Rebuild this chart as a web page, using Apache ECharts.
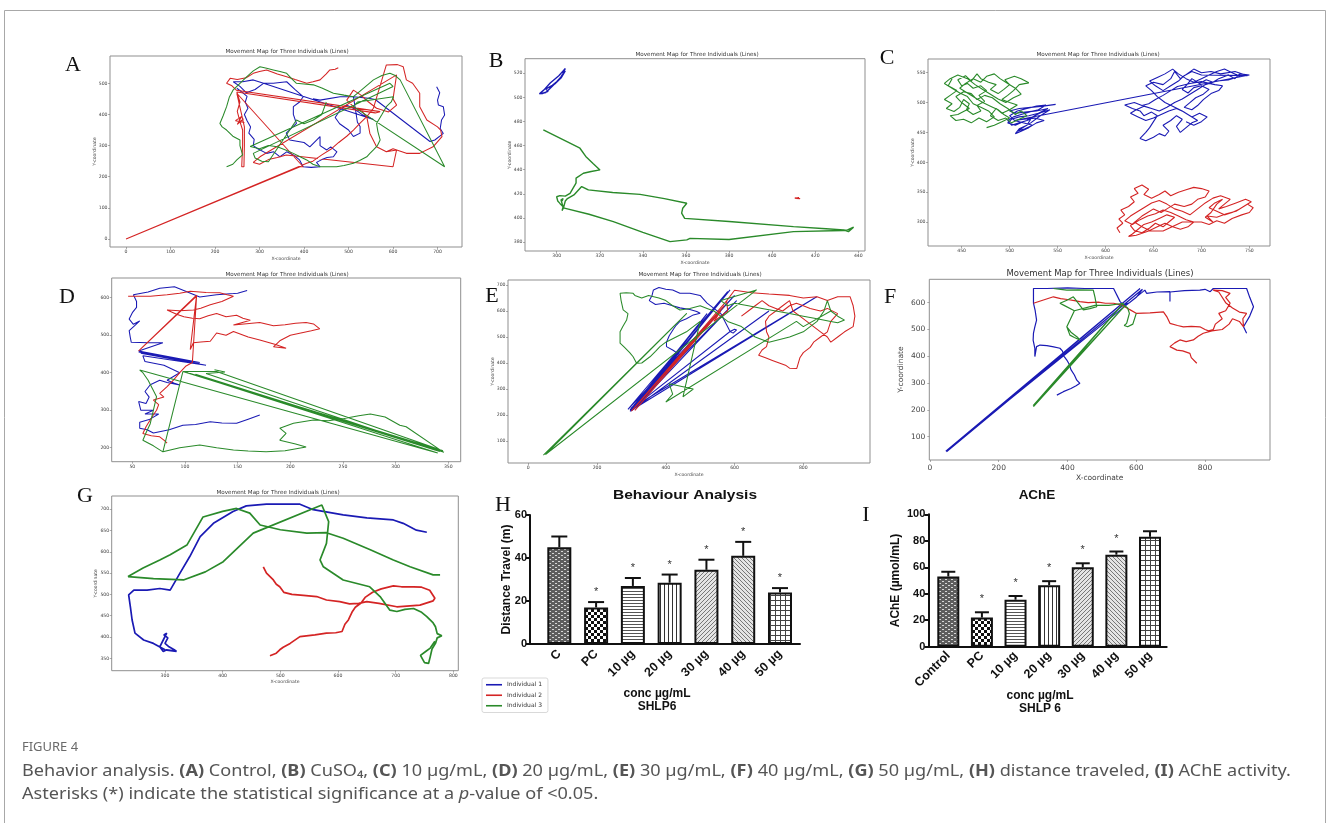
<!DOCTYPE html>
<html><head><meta charset="utf-8">
<script src="https://cdn.jsdelivr.net/npm/echarts@6/dist/echarts.min.js"></script>
<style>html,body{margin:0;padding:0;background:#fff}#c{width:1328px;height:823px}</style>
</head><body><div id="c"></div>
<script>
// ---------------- DATA ----------------
const NAMES = ['Individual 1', 'Individual 2', 'Individual 3'];

// Panel A (Control)
const A_xticks = [0,100,200,300,400,500,600,700];
const A_yticks = [0,100,200,300,400,500];
const A_ind1 = [[249,484],[262,470],[272,458],[268,440],[274,420],[266,400],[272,380],[280,360],[276,340],[288,320],[286,300],[296,290],[316,275],[332,280],[346,264],[361,280],[376,270],[390,254],[398,232],[416,230],[436,232],[428,246],[440,255],[452,262],[466,264],[474,280],[460,296],[451,286],[436,300],[436,329],[413,296],[400,310],[368,318],[360,340],[383,371],[376,400],[376,425],[390,440],[398,457],[380,480],[361,505],[331,500],[309,500],[286,511],[262,505],[241,505],[256,490],[270,470],[290,480],[309,500],[556,384],[530,400],[511,420],[496,430],[481,414],[470,390],[480,370],[500,350],[511,329],[526,340],[526,361],[520,375],[511,457],[481,457],[460,452],[436,446],[420,450],[436,446],[481,457],[511,457],[545,452],[560,448],[683,313],[694,318],[713,339],[706,355],[709,382],[716,398],[713,425],[702,430],[700,446],[705,470],[698,489]];
const A_ind2 = [[477,550],[470,545],[458,543],[450,530],[436,511],[420,505],[406,500],[380,512],[361,521],[340,530],[316,543],[300,538],[286,532],[270,518],[250,512],[234,516],[226,500],[238,492],[248,478],[571,409],[560,405],[249,472],[256,440],[250,410],[256,377],[264,386],[250,368],[260,394],[246,380],[266,374],[256,377],[262,350],[262,300],[260,232],[265,232],[266,300],[266,360],[249,468],[398,232],[391,232],[0,0],[406,243],[420,250],[440,270],[462,290],[478,310],[496,330],[511,350],[526,372],[541,393],[530,410],[511,425],[496,446],[511,478],[528,462],[545,440],[563,420],[590,408],[608,430],[600,450],[608,527],[301,264],[286,246],[300,240],[320,255],[340,262],[360,270],[600,232],[608,286],[585,280],[563,296],[548,339],[541,393],[556,420],[585,559],[610,560],[623,553],[630,511],[644,500],[660,468],[660,425],[676,382],[700,360],[707,350],[710,329],[690,296],[660,275],[630,275],[600,290],[585,280]];
const A_ind3 = [[226,232],[240,240],[249,254],[262,270],[256,300],[256,318],[240,330],[226,350],[216,360],[211,371],[218,395],[226,425],[232,455],[241,479],[256,500],[271,521],[286,540],[301,553],[316,548],[331,543],[346,538],[361,532],[372,515],[383,500],[400,498],[421,495],[440,485],[466,468],[490,462],[511,457],[530,480],[556,511],[575,525],[593,532],[605,525],[616,511],[716,232],[511,425],[520,440],[601,457],[596,440],[585,425],[575,400],[563,371],[566,345],[571,318],[565,300],[556,286],[548,275],[541,264],[525,252],[511,243],[490,236],[473,232],[455,232],[436,232],[420,240],[406,254],[390,265],[376,275],[360,285],[340,296],[320,300],[300,290],[279,297],[593,500],[600,490],[286,275],[290,260],[305,250],[320,248],[383,382],[400,370],[421,382],[440,400],[450,440]];

// Panel B (CuSO4)
const B_xticks = [300,320,340,360,380,400,420,440];
const B_yticks = [380,400,420,440,460,480,500,520];
const B_ind1 = [[293,503],[296,505],[295,507],[298,510],[300,513],[302,517],[303,520],[304,524],[303,522],[301,518],[297,512],[294,506],[292,503],[295,504],[299,511],[302,516],[304,522]];
const B_ind2 = [[410.5,416.5],[413,416],[411,416.3],[412.5,416.8],[411.2,416.1]];
const B_ind3 = [[293.8,473],[305,463],[310.8,457.8],[313.5,451],[317,445],[320.1,439.8],[316,438.5],[312.4,437],[309,433],[308.5,431.5],[309,429],[308.5,427.3],[306.2,420.4],[304,418],[301.5,418.5],[300,417.5],[300.5,414],[301.5,412],[303,409.3],[302.5,406],[303.2,408.5],[304,414],[305,416],[308,419],[311.6,426],[314.7,423.2],[326,421],[338.7,419.5],[350,416],[360.4,412.1],[358.5,408],[358,404],[359.4,399.6],[380,397],[409.9,392.7],[425,391],[433.1,390],[435.4,388.6],[437.8,392.3],[435,390],[433,389.5],[409.9,388.6],[380,382],[361.9,383],[360.4,381.7],[352.6,380.3],[340,388],[326.3,396.9],[315,403],[303.1,408.3],[302,415],[303,416],[302.5,414]];

// Panel C (10 ug/mL)
const C_xticks = [450,500,550,600,650,700,750];
const C_yticks = [300,350,400,450,500,550];
const C_ind1 = [[548,497],[535,494],[522,492],[510,490],[500,486],[506,482],[516,484],[528,486],[540,490],[530,482],[520,478],[510,476],[502,472],[498,466],[506,462],[514,468],[522,472],[518,462],[510,456],[506,448],[512,452],[520,458],[528,466],[536,470],[526,474],[515,472],[505,470],[500,478],[508,486],[518,490],[528,494],[538,496],[530,488],[520,484],[512,480],[504,476],[498,470],[502,462],[510,466],[518,470],[526,478],[534,484],[542,488],[532,478],[522,466],[514,458],[508,452],[516,456],[524,462],[505,470],[750,546],[740,548],[735,540],[728,546],[718,540],[712,534],[705,538],[698,532],[690,540],[685,530],[680,522],[686,516],[692,525],[700,528],[708,522],[702,514],[694,508],[688,500],[682,492],[690,488],[696,495],[702,505],[710,515],[718,520],[722,528],[714,530],[700,535],[688,532],[675,527],[668,520],[660,512],[652,505],[645,498],[638,495],[630,500],[620,496],[628,490],[636,486],[640,478],[648,484],[654,478],[650,468],[646,458],[642,450],[636,440],[642,436],[650,442],[656,448],[662,444],[666,452],[660,462],[668,470],[674,478],[680,472],[674,460],[678,450],[684,458],[690,466],[696,470],[688,478],[680,486],[670,494],[662,500],[654,510],[648,520],[642,528],[650,534],[660,530],[668,540],[672,552],[678,540],[685,548],[692,556],[700,550],[710,552],[720,548],[735,552],[748,545],[700,546],[690,552],[682,545],[676,536],[668,528],[660,520],[652,528],[646,536],[654,542],[662,548],[670,556],[676,548],[684,540],[692,534],[700,540],[708,546],[716,552],[724,556],[732,550],[740,544],[728,538],[716,536],[704,530],[696,522],[688,514],[680,506],[672,500],[664,492],[656,486],[648,490],[640,494],[632,488],[626,482],[634,476],[642,470],[650,474],[658,480],[666,486],[674,490],[682,484],[690,476],[698,482],[706,476],[700,468],[692,462],[684,468]];
const C_ind2 = [[615,282],[612,290],[618,298],[614,305],[620,312],[616,320],[624,326],[630,334],[626,342],[634,348],[630,356],[638,362],[645,355],[640,346],[648,340],[656,346],[662,352],[668,344],[676,350],[684,354],[692,358],[700,356],[708,352],[704,342],[696,338],[690,330],[682,326],[672,330],[664,322],[658,316],[650,322],[644,316],[638,310],[632,302],[626,294],[630,286],[638,282],[646,290],[652,298],[660,292],[666,300],[672,308],[664,312],[656,306],[648,300],[640,296],[634,288],[628,280],[624,276],[632,278],[645,285],[660,285],[680,300],[700,300],[708,296],[716,302],[724,298],[732,306],[742,312],[750,316],[754,324],[748,330],[740,322],[732,316],[724,312],[716,318],[708,324],[714,332],[722,338],[716,330],[710,316],[704,308],[712,300],[706,310],[716,308],[726,314],[736,318],[744,326],[752,334],[746,338],[736,332],[726,326],[718,322],[724,330],[730,338],[720,344],[712,340],[704,332],[696,322],[688,312],[680,318],[672,322],[664,330],[656,336],[648,332],[640,324],[634,318],[626,310],[620,302],[628,296],[636,304],[644,310],[652,314],[660,320],[668,316],[676,310],[684,304],[692,300],[686,292],[678,288],[670,292],[662,298],[654,292],[646,286],[638,292],[630,300]];
const C_ind3 = [[440,540],[436,528],[445,520],[438,512],[432,505],[440,498],[434,490],[442,485],[448,492],[452,505],[458,498],[455,488],[462,480],[470,486],[466,495],[474,502],[468,512],[476,520],[470,528],[462,524],[456,532],[450,528],[446,538],[454,545],[460,536],[466,548],[470,540],[478,534],[486,530],[480,522],[488,515],[494,522],[500,530],[495,538],[505,544],[512,540],[520,533],[510,530],[504,520],[498,512],[492,505],[500,500],[508,496],[500,488],[492,482],[486,490],[480,478],[488,470],[496,474],[502,466],[510,472],[518,478],[512,486],[506,480],[498,490],[490,498],[482,508],[474,512],[466,505],[460,515],[452,518],[444,510],[450,500],[458,490],[446,480],[438,478],[444,470],[452,472],[460,466],[468,474],[476,468],[484,476],[478,486],[470,492],[462,498],[456,510],[448,516],[440,524],[432,532],[438,540],[446,546],[456,540],[464,530],[472,522],[480,514],[488,506],[496,500],[504,508],[512,514],[506,524],[498,532],[490,540],[484,548],[476,544],[470,534],[462,540],[454,532],[448,524],[456,516],[464,508],[472,500],[480,494],[488,488],[494,480],[500,474],[492,468],[484,462],[476,458]];

// Panel D (20 ug/mL)
const D_xticks = [50,100,150,200,250,300,350];
const D_yticks = [200,300,400,500,600];
const D_ind1 = [[159,619],[150,612],[146,611],[130,608],[114,602],[100,618],[90,629],[76,625],[65,615],[51,608],[54,590],[54,574],[50,560],[47,543],[51,529],[57,538],[52,525],[47,512],[48,495],[49,481],[65,480],[79,480],[56,458],[114,427],[56,455],[114,424],[58,452],[120,420],[60,445],[62,430],[80,420],[95,400],[83,380],[90,372],[95,367],[83,374],[76,380],[67,368],[67,363],[62,350],[66,335],[63,318],[56,323],[58,300],[70,300],[62,290],[75,290],[66,275],[57,268],[57,252],[64,248],[70,239],[85,248],[98,260],[110,262],[124,269],[135,266],[149,265],[160,276],[171,287]];
const D_ind2 = [[46,604],[55,604],[67,604],[83,608],[95,612],[105,617],[120,614],[133,613],[140,608],[146,604],[135,590],[124,581],[115,572],[108,567],[95,565],[83,567],[92,556],[99,549],[107,545],[114,544],[122,552],[130,558],[139,549],[149,553],[155,545],[162,540],[152,532],[146,527],[171,534],[184,525],[195,528],[205,532],[215,534],[222,530],[228,517],[220,512],[200,500],[190,485],[184,469],[196,465],[186,475],[171,487],[160,495],[146,510],[139,500],[130,506],[124,484],[115,482],[108,480],[105,462],[111,607],[56,458],[111,604],[107,427],[101,418],[95,400],[89,380],[83,363],[76,345],[80,335],[70,327],[75,315],[73,300],[70,288],[67,274],[65,265],[63,256],[60,238],[68,232],[76,229],[80,220],[83,212]];
const D_ind3 = [[79,189],[95,200],[114,207],[130,200],[146,194],[160,191],[177,189],[195,192],[215,202],[205,210],[190,220],[196,238],[190,252],[203,265],[222,274],[236,272],[251,278],[265,285],[276,290],[290,282],[304,260],[310,256],[345,189],[98,403],[130,403],[345,192],[105,398],[340,186],[57,407],[60,400],[65,380],[73,336],[70,300],[67,264],[63,240],[60,220],[70,205],[79,189],[98,403],[342,190],[102,400],[346,188],[110,396],[338,193],[120,398],[138,402],[128,408]];

// Panel E (30 ug/mL)
const E_xticks = [0,200,400,600,800];
const E_yticks = [100,200,300,400,500,600,700];
const E_ind1 = [[364,681],[360,660],[352,640],[370,625],[395,630],[420,620],[441,612],[470,606],[490,598],[500,591],[480,585],[460,570],[441,560],[430,545],[422,530],[410,505],[402,480],[402,463],[420,450],[441,431],[296,219],[587,681],[300,215],[580,675],[290,222],[600,660],[296,214],[560,600],[305,220],[606,640],[298,225],[839,655],[300,218],[700,600],[306,223],[520,590],[296,219],[587,521],[600,530],[606,527],[596,515],[587,521],[560,590],[520,630],[500,660],[470,668],[441,668],[420,681],[400,684],[380,690],[364,681]];
const E_ind2 = [[300,215],[577,639],[305,222],[570,620],[310,218],[560,600],[540,560],[580,600],[577,639],[600,680],[650,670],[700,665],[760,660],[800,650],[840,655],[870,640],[900,655],[936,655],[945,620],[950,580],[945,540],[920,520],[900,500],[880,480],[870,500],[850,520],[830,540],[810,560],[790,580],[770,600],[760,640],[740,620],[720,600],[700,580],[690,560],[693,520],[700,500],[693,463],[680,450],[670,430],[690,420],[710,410],[730,400],[750,390],[760,380],[781,379],[790,420],[800,440],[820,460],[830,480],[850,500],[870,520],[880,560],[900,590],[870,610],[850,600],[820,610],[800,620],[780,630],[760,620],[740,600],[720,610],[700,620],[680,640],[660,620],[640,600],[620,580]];
const E_ind3 = [[44,46],[461,591],[50,48],[664,681],[560,640],[580,620],[600,630],[640,620],[680,610],[720,600],[760,590],[800,580],[840,570],[880,560],[900,555],[920,565],[900,580],[880,600],[870,640],[860,600],[840,560],[800,520],[760,500],[700,480],[660,500],[620,540],[580,560],[560,580],[540,600],[520,610],[500,620],[470,610],[441,604],[420,620],[400,640],[380,650],[350,660],[330,650],[310,660],[305,668],[285,670],[267,668],[270,640],[276,604],[290,590],[286,565],[275,540],[267,520],[267,476],[280,460],[295,440],[305,424],[315,399],[330,400],[354,424],[370,445],[383,463],[400,480],[430,500],[460,520],[480,540],[500,560],[450,270],[480,300],[410,320],[420,280],[400,250],[780,560],[800,540],[880,600]];

// Panel F (40 ug/mL)
const F_xticks = [0,200,400,600,800];
const F_yticks = [100,200,300,400,500,600];
const F_ind1 = [[369,255],[388,268],[410,280],[425,290],[436,299],[427,311],[420,330],[410,350],[405,370],[398,386],[390,400],[385,420],[378,430],[360,435],[340,440],[320,442],[310,436],[305,399],[305,430],[300,460],[301,486],[305,510],[310,535],[306,570],[301,598],[301,653],[340,653],[400,655],[450,653],[500,653],[534,653],[553,604],[563,591],[580,600],[600,620],[618,650],[48,44],[611,653],[46,46],[625,647],[630,635],[660,640],[698,641],[698,604],[698,640],[740,645],[785,647],[800,650],[815,641],[824,653],[870,653],[921,653],[930,620],[941,585],[930,550],[912,510],[921,486]];
const F_ind2 = [[301,598],[330,610],[359,622],[380,615],[400,612],[420,608],[436,604],[460,600],[490,602],[510,598],[534,598],[560,590],[580,575],[601,560],[640,562],[679,566],[690,545],[698,523],[720,515],[737,510],[760,512],[785,510],[800,500],[810,495],[824,500],[830,520],[850,540],[840,560],[860,570],[873,598],[860,620],[873,635],[850,645],[824,647],[840,640],[860,600],[880,580],[900,565],[921,560],[910,540],[912,510],[900,530],[880,540],[870,520],[850,500],[820,495],[795,486],[780,475],[766,461],[745,455],[727,461],[712,450],[698,436],[718,423],[735,420],[756,411],[760,395],[776,374]];
const F_ind3 = [[359,653],[380,650],[398,647],[430,648],[475,647],[480,620],[485,585],[465,578],[446,573],[430,600],[417,622],[400,610],[378,598],[390,590],[420,570],[398,510],[407,479],[420,470],[436,461],[430,470],[410,490],[398,510],[420,570],[480,590],[520,590],[563,598],[301,212],[305,210],[568,590],[300,216],[560,595],[575,580],[580,560],[572,523],[565,515],[575,510],[590,520],[600,560]];

// Panel G (50 ug/mL)
const G_xticks = [300,400,500,600,700,800];
const G_yticks = [350,400,450,500,550,600,650,700];
const G_ind1 = [[320,366],[312,368],[303,370],[297,366],[291,377],[297,393],[303,409],[300,413],[298,405],[305,398],[300,385],[307,377],[316,370],[320,366],[300,370],[280,385],[263,393],[248,409],[243,440],[240,471],[237,499],[246,510],[269,510],[291,514],[309,510],[326,550],[343,589],[361,636],[384,667],[418,695],[441,708],[476,712],[534,712],[557,699],[609,687],[650,680],[696,675],[713,667],[736,651],[754,646]];
const G_ind2 = [[470.5,565],[476,550],[487.9,534],[493,524],[499,518],[506,505],[520,500],[540,498],[563,495],[580,487],[603,483],[620,478],[636,479],[650,483],[671,479],[702,471],[742,475],[765,485],[768,491],[759,510],[745,517],[731,518],[710,518],[696,520],[675,513],[660,505],[647,493],[640,480],[630,470],[625,460],[618,440],[612,430],[607,413],[596,410],[580,409],[560,405],[534,401],[517,385],[505,376],[499,370],[493,362],[482,356]];
const G_ind3 = [[777,546],[765,546],[725,565],[696,581],[656,605],[609,632],[580,645],[546,644],[500,652],[465,663],[447,691],[424,702],[400,695],[366,682],[338,616],[309,593],[291,581],[262,562],[236,542],[280,537],[332,534],[370,553],[401,577],[453,644],[572,710],[583.8,671],[580,620],[568.8,581],[574.6,565],[609,534],[655,518],[673,495],[690,463],[702,460],[716,465],[731,467],[745,458],[754,448],[765,433],[769,424],[772,408],[780,403],[772,398],[769,385],[763,372],[760,354],[757,338],[750,340],[743,357],[752,366],[760,374],[768,390]];

// Panel H (distance travelled)
const H_categories = ['C','PC','10 µg','20 µg','30 µg','40 µg','50 µg'];
const H_values = [45, 17, 27, 28.5, 34.5, 41, 24];
const H_errors = [5, 2.5, 3.7, 3.8, 4.7, 6.5, 2];
const H_sig = [0,1,1,1,1,1,1];
const H_yticks = [0,20,40,60];

// Panel I (AChE)
const I_categories = ['Control','PC','10 µg','20 µg','30 µg','40 µg','50 µg'];
const I_values = [53, 22, 35.5, 46.5, 60, 69.5, 83];
const I_errors = [3.6, 4, 2.8, 3, 3, 2.4, 4.2];
const I_sig = [0,1,1,1,1,1,0];
const I_yticks = [0,20,40,60,80,100];

// ---------------- STYLE / LAYOUT ----------------
const COLORS = ['#1a1ab4', '#d42424', '#2a8a2a'];
const panels = [
  {L:'A', d:[A_ind1,A_ind2,A_ind3], xt:A_xticks, yt:A_yticks, box:[110,56,352,191], xr:[-36,755], yr:[-25.7,587.7], title:[287,52], letter:[73,65], names:true},
  {L:'B', d:[B_ind1,B_ind2,B_ind3], xt:B_xticks, yt:B_yticks, box:[525,58.7,340,192.3], xr:[285.3,443.1], yr:[372.5,532.1], title:[697,55], letter:[496,61], names:true, lw:1.4},
  {L:'C', d:[C_ind1,C_ind2,C_ind3], xt:C_xticks, yt:C_yticks, box:[928,59,342,187], xr:[414.9,771.5], yr:[259.9,572.9], title:[1098,55], letter:[887,58], names:true, lw:1.1},
  {L:'D', d:[D_ind1,D_ind2,D_ind3], xt:D_xticks, yt:D_yticks, box:[111.7,278,349,183.7], xr:[30.4,361.8], yr:[162.7,652.5], title:[287,275], letter:[67,297], names:false},
  {L:'E', d:[E_ind1,E_ind2,E_ind3], xt:E_xticks, yt:E_yticks, box:[508,280,362,183], xr:[-59,994], yr:[15.4,719.2], title:[700,275], letter:[492,296], names:true},
  {L:'F', d:[F_ind1,F_ind2,F_ind3], xt:F_xticks, yt:F_yticks, box:[929.3,279.3,340.7,180.7], xr:[-2,989], yr:[13,687.3], title:[1100,274], letter:[890,297], names:true, big:true},
  {L:'G', d:[G_ind1,G_ind2,G_ind3], xt:G_xticks, yt:G_yticks, box:[111.7,496,346.6,174.7], xr:[207.6,808.6], yr:[320.9,731.2], title:[278,493], letter:[85,496], names:true, lw:1.7}
];

function pattern(w, h, draw) {
  const c = document.createElement('canvas'); c.width = w; c.height = h;
  const g = c.getContext('2d'); draw(g, w, h);
  return { image: c, repeat: 'repeat' };
}
const PATTERNS = [
  pattern(6, 4, (g) => { g.fillStyle = '#5e5e5e'; g.fillRect(0,0,6,4); g.fillStyle = '#d8d8d8'; g.fillRect(0,1,2,1); g.fillRect(3,3,2,1); }),
  pattern(6, 6, (g) => { g.fillStyle = '#fff'; g.fillRect(0,0,6,6); g.fillStyle = '#111'; g.fillRect(0,0,3,3); g.fillRect(3,3,3,3); }),
  pattern(4, 3, (g) => { g.fillStyle = '#fff'; g.fillRect(0,0,4,3); g.fillStyle = '#555'; g.fillRect(0,0,4,1); }),
  pattern(4, 4, (g) => { g.fillStyle = '#fff'; g.fillRect(0,0,4,4); g.fillStyle = '#333'; g.fillRect(0,0,1,4); }),
  pattern(4, 4, (g) => { g.fillStyle = '#e4e4e4'; g.fillRect(0,0,4,4); g.fillStyle = '#777'; g.fillRect(3,0,1,1); g.fillRect(2,1,1,1); g.fillRect(1,2,1,1); g.fillRect(0,3,1,1); }),
  pattern(4, 4, (g) => { g.fillStyle = '#e4e4e4'; g.fillRect(0,0,4,4); g.fillStyle = '#777'; g.fillRect(0,0,1,1); g.fillRect(1,1,1,1); g.fillRect(2,2,1,1); g.fillRect(3,3,1,1); }),
  pattern(5, 5, (g) => { g.fillStyle = '#fff'; g.fillRect(0,0,5,5); g.fillStyle = '#444'; g.fillRect(0,0,5,1); g.fillRect(0,0,1,5); })
];

const grids = [], xAxes = [], yAxes = [], series = [], graphics = [];

panels.forEach((p, k) => {
  const [l, t, w, h] = p.box;
  const fs = p.big ? 7.5 : 4.6;
  grids.push({left:l, top:t, width:w, height:h, show:true, borderColor:'#8f8f8f', borderWidth:1, backgroundColor:'#fff', containLabel:false, outerBoundsMode:'none'});
  const common = {type:'value', splitLine:{show:false}, axisLine:{show:false, onZero:false}, nameMoveOverlap:false,
    nameLocation:'middle', nameTextStyle:{fontSize:fs, color:'#444', fontFamily:'DejaVu Sans'}};
  xAxes.push(Object.assign({}, common, {gridIndex:k, min:p.xr[0], max:p.xr[1],
    axisTick:{show:true, length:2, lineStyle:{color:'#777', width:0.6}, customValues:p.xt},
    axisLabel:{customValues:p.xt, fontSize:fs, color:'#444', margin:p.big?4:2.5, fontFamily:'DejaVu Sans'},
    name: p.names ? 'X-coordinate' : '', nameGap: p.big ? 14 : 9}));
  yAxes.push(Object.assign({}, common, {gridIndex:k, min:p.yr[0], max:p.yr[1],
    axisTick:{show:true, length:2, lineStyle:{color:'#777', width:0.6}, customValues:p.yt},
    axisLabel:{customValues:p.yt, fontSize:fs, color:'#444', margin:p.big?4:2.5, fontFamily:'DejaVu Sans'},
    name: p.names ? 'Y-coordinate' : '', nameGap: p.big ? 24 : 13, nameRotate:90}));
  p.d.forEach((arr, j) => series.push({type:'line', name:NAMES[j], xAxisIndex:k, yAxisIndex:k, data:arr, symbol:'none', showSymbol:false,
    lineStyle:{width:p.lw || (p.big ? 1.2 : 1.05), color:COLORS[j]}, itemStyle:{color:COLORS[j]}, silent:true, z:3}));
  graphics.push({type:'text', style:{text:'Movement Map for Three Individuals (Lines)', x:p.title[0], y:p.title[1], textAlign:'center', textVerticalAlign:'middle', font:(p.big?8.5:5.6)+'px "DejaVu Sans"', fill:'#333'}});
  graphics.push({type:'text', style:{text:p.L, x:p.letter[0], y:p.letter[1], textAlign:'center', textVerticalAlign:'middle', font:'22px "Liberation Serif"', fill:'#111'}});
});

function errRender(cap, off) {
  return function (params, api) {
    const i = api.value(0), v = api.value(1), e = api.value(2), s = api.value(3);
    const b = api.coord([i, v]), t = api.coord([i, v + e]);
    const ch = [
      {type:'line', shape:{x1:b[0], y1:b[1], x2:t[0], y2:t[1]}, style:{stroke:'#111', lineWidth:2}},
      {type:'line', shape:{x1:t[0]-cap, y1:t[1], x2:t[0]+cap, y2:t[1]}, style:{stroke:'#111', lineWidth:2}}
    ];
    if (s) ch.push({type:'text', style:{text:'*', x:t[0], y:t[1]-off, textAlign:'center', textVerticalAlign:'middle', font:'11px "Liberation Sans"', fill:'#333'}});
    return {type:'group', children:ch};
  };
}

function addBars(cfg) {
  const k = grids.length;
  grids.push({left:cfg.box[0], top:cfg.box[1], width:cfg.box[2], height:cfg.box[3], containLabel:false, outerBoundsMode:'none'});
  const idx = cfg.cats.map((c, i) => i);
  xAxes.push({gridIndex:k, type:'value', min:cfg.xr[0], max:cfg.xr[1], splitLine:{show:false},
    axisLine:{show:true, onZero:false, lineStyle:{color:'#111', width:2}}, axisTick:{show:false},
    axisLabel:{customValues:idx, formatter:(v) => cfg.cats[Math.round(v)], rotate:45, fontSize:12.5, fontWeight:'bold', color:'#111', margin:cfg.xlm, fontFamily:'Liberation Sans'}});
  yAxes.push({gridIndex:k, type:'value', min:cfg.yt[0], max:cfg.yt[cfg.yt.length-1], interval:cfg.yt[1]-cfg.yt[0], splitLine:{show:false},
    axisLine:{show:true, onZero:false, lineStyle:{color:'#111', width:2}}, axisTick:{show:true, length:4, lineStyle:{color:'#111', width:2}},
    axisLabel:{fontSize:11, fontWeight:'bold', color:'#111', margin:3, fontFamily:'Liberation Sans'},
    name:cfg.yname, nameLocation:'middle', nameGap:cfg.nameGap, nameRotate:90, nameMoveOverlap:false,
    nameTextStyle:{fontSize:12, fontWeight:'bold', color:'#111', fontFamily:'Liberation Sans'}});
  series.push({type:'bar', xAxisIndex:k, yAxisIndex:k, barWidth:cfg.bw, silent:true,
    data:cfg.vals.map((v, i) => ({value:[i, v], itemStyle:{color:PATTERNS[i], borderColor:'#111', borderWidth:2}}))});
  series.push({type:'custom', xAxisIndex:k, yAxisIndex:k, silent:true, z:5,
    data:cfg.vals.map((v, i) => [i, v, cfg.errs[i], cfg.sig[i]]), renderItem:errRender(cfg.cap, cfg.off)});
  graphics.push({type:'text', x:cfg.titlePos[0], y:cfg.titlePos[1], scaleX:cfg.titleScale, style:{text:cfg.title, x:0, y:0, textAlign:'center', textVerticalAlign:'middle', font:'bold 13.5px "Liberation Sans"', fill:'#111'}});
  cfg.xname.forEach((s, j) => graphics.push({type:'text', style:{text:s, x:cfg.xnamePos[0], y:cfg.xnamePos[1] + j*12.5, textAlign:'center', textVerticalAlign:'middle', font:'bold 12px "Liberation Sans"', fill:'#111'}}));
  graphics.push({type:'text', style:{text:cfg.L, x:cfg.letter[0], y:cfg.letter[1], textAlign:'center', textVerticalAlign:'middle', font:'22px "Liberation Serif"', fill:'#111'}});
}

addBars({L:'H', cats:H_categories, vals:H_values, errs:H_errors, sig:H_sig, yt:H_yticks, box:[530,515,270,129], xr:[-0.797,6.544], bw:24, cap:8, off:10, xlm:8,
  yname:'Distance Travel (m)', nameGap:17, title:'Behaviour Analysis', titlePos:[685,495], titleScale:1.15, xname:['conc µg/mL','SHLP6'], xnamePos:[657,694], letter:[503,505]});
addBars({L:'I', cats:I_categories, vals:I_values, errs:I_errors, sig:I_sig, yt:I_yticks, box:[928.3,514.3,238.4,132.4], xr:[-0.595,6.497], bw:22, cap:7, off:13, xlm:7,
  yname:'AChE (µmol/mL)', nameGap:27, title:'AChE', titlePos:[1037,495], titleScale:1, xname:['conc µg/mL','SHLP 6'], xnamePos:[1040,696], letter:[866,515]});

// figure frame + caption
graphics.push({type:'rect', shape:{x:4.5, y:10.5, width:1321, height:830}, style:{fill:'none', stroke:'#a8a8a8', lineWidth:1}, z:-1});
graphics.push({type:'text', x:22, y:748, scaleX:1.08, style:{text:'FIGURE 4', x:0, y:0, textVerticalAlign:'middle', font:'12px "Noto Sans"', fill:'#6a6a6a'}});
const F15 = '15.5px "Noto Sans"', B15 = 'bold 15.5px "Noto Sans"', I15 = 'italic 15.5px "Noto Sans"';
graphics.push({type:'text', x:22, y:772, scaleX:1.168, style:{x:0, y:0, textVerticalAlign:'middle', font:F15, fill:'#555',
  text:'Behavior analysis. {b|(A)} Control, {b|(B)} CuSO₄, {b|(C)} 10 µg/mL, {b|(D)} 20 µg/mL, {b|(E)} 30 µg/mL, {b|(F)} 40 µg/mL, {b|(G)} 50 µg/mL, {b|(H)} distance traveled, {b|(I)} AChE activity.',
  rich:{b:{font:B15, fill:'#555'}}}});
graphics.push({type:'text', x:22, y:795, scaleX:1.168, style:{x:0, y:0, textVerticalAlign:'middle', font:F15, fill:'#555',
  text:'Asterisks (*) indicate the statistical significance at a {i|p}-value of <0.05.', rich:{i:{font:I15, fill:'#555'}}}});

const chart = echarts.init(document.getElementById('c'), null, {renderer:'canvas'});
chart.setOption({
  animation:false,
  backgroundColor:'#fff',
  grid:grids, xAxis:xAxes, yAxis:yAxes, series:series, graphic:graphics,
  legend:{data:NAMES, orient:'vertical', left:482, top:678, itemWidth:16, itemHeight:1.6, itemGap:3, icon:'rect', selectedMode:false,
    padding:[3,6,3,4], borderColor:'#cfcfcf', borderWidth:0.8, borderRadius:2, backgroundColor:'#fff',
    textStyle:{fontSize:6, lineHeight:7.5, color:'#333', fontFamily:'DejaVu Sans'}}
});
</script></body></html>
